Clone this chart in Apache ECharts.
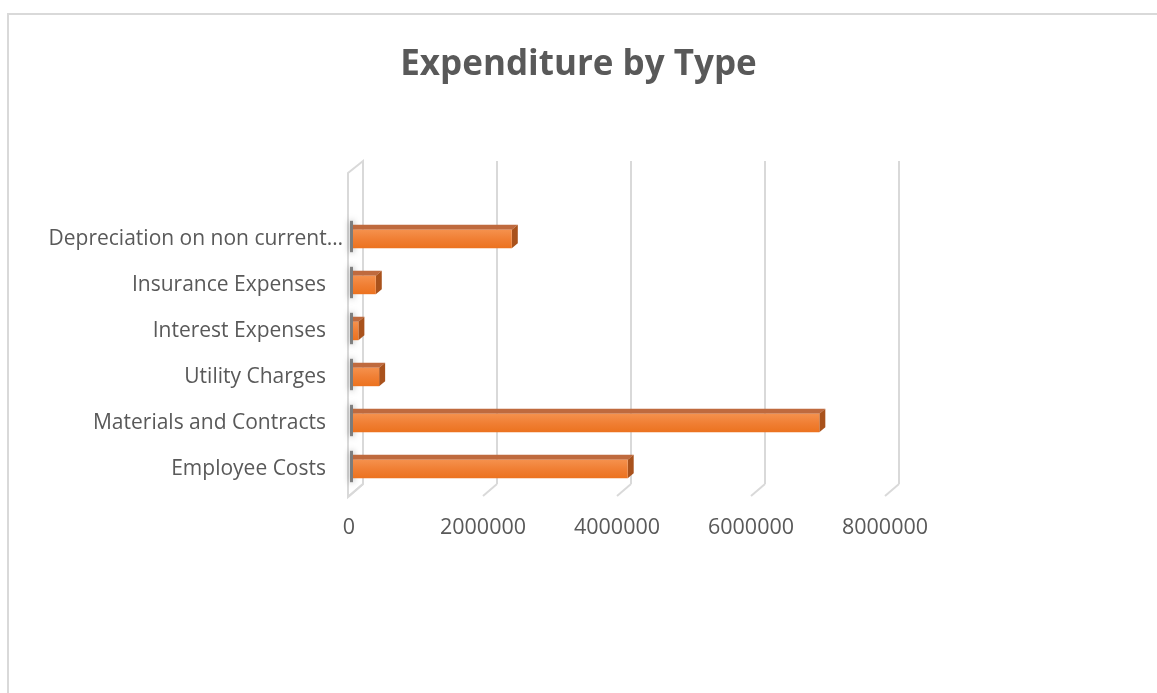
<!DOCTYPE html>
<html>
<head>
<meta charset="utf-8">
<script src="https://cdn.jsdelivr.net/npm/echarts@6/dist/echarts.min.js"></script>
<style>
html,body{margin:0;padding:0;background:#fff;}
#chart{width:1157px;height:693px;}
</style>
</head>
<body>
<div id="chart"></div>
<script>
// ---- data ----
const categories = [
  'Employee Costs',
  'Materials and Contracts',
  'Utility Charges',
  'Interest Expenses',
  'Insurance Expenses',
  'Depreciation on non current assets'
];
const values = [4100000, 6960000, 390000, 80000, 340000, 2370000];
const tickValues = [0, 2000000, 4000000, 6000000, 8000000];
const titleText = 'Expenditure by Type';

const FONT = 'Open Sans';
const TEXT = '#595959';
const GRID = '#d9d9d9';

const chart = echarts.init(document.getElementById('chart'), null, {renderer: 'canvas'});

function barItem(params, api) {
  const v = api.value(0);
  const idx = api.value(1);
  const s = api.coord([0, idx]);
  const e = api.coord([v, idx]);
  const h = api.size([0, 1])[1] * 0.40;
  const dx = 6, dy = 5;
  const x0 = s[0], x1 = e[0];
  const y0 = s[1] - h / 2;
  return {
    type: 'group',
    children: [
      {
        type: 'rect',
        shape: {x: x0 - 3, y: y0 - dy - 4, width: 3, height: h + dy + 8},
        style: {fill: 'rgba(60,60,60,0.6)', shadowBlur: 6, shadowColor: 'rgba(0,0,0,0.7)'}
      },
      {
        type: 'polygon',
        shape: {points: [[x0, y0], [x0, y0 - dy], [x1 + dx, y0 - dy], [x1, y0]]},
        style: {fill: '#bf6a3e'}
      },
      {
        type: 'polygon',
        shape: {points: [[x1, y0], [x1 + dx, y0 - dy], [x1 + dx, y0 + h - dy], [x1, y0 + h]]},
        style: {fill: '#a9521c'}
      },
      {
        type: 'rect',
        shape: {x: x0, y: y0, width: x1 - x0, height: h},
        style: {
          fill: new echarts.graphic.LinearGradient(0, 0, 0, 1, [
            {offset: 0, color: '#f5914d'},
            {offset: 0.5, color: '#f07f34'},
            {offset: 1, color: '#ec721f'}
          ])
        }
      }
    ]
  };
}

function floorItem(params, api) {
  const v = api.value(0);
  const p = api.coord([v, 0]);
  const top = api.coord([v, 1]);
  const children = [];
  if (v === 0) {
    children.push({
      type: 'polygon',
      shape: {points: [[p[0] - 15, top[1] + 12], [p[0], top[1]], [p[0], p[1]], [p[0] - 15, p[1] + 13]]},
      style: {fill: '#ffffff', stroke: GRID, lineWidth: 2}
    });
  }
  children.push({
    type: 'line',
    shape: {x1: p[0], y1: p[1], x2: p[0] - 14, y2: p[1] + 12},
    style: {stroke: GRID, lineWidth: 2}
  });
  return {type: 'group', children: children};
}

const option = {
  backgroundColor: '#ffffff',
  animation: false,
  title: {
    text: titleText,
    left: 'center',
    top: 43,
    textStyle: {fontFamily: FONT, fontSize: 35, fontWeight: 'bold', color: TEXT}
  },
  graphic: [{
    type: 'rect',
    shape: {x: 8, y: 14, width: 1160, height: 700},
    style: {fill: 'none', stroke: GRID, lineWidth: 2},
    silent: true
  }],
  grid: [
    {left: 353, width: 536, top: 216, height: 276},   // bar plane
    {left: 363, width: 536, top: 161, height: 323},   // back wall
    {left: 349, width: 536, top: 216, height: 280}    // front floor edge (labels)
  ],
  xAxis: [
    {gridIndex: 0, type: 'value', min: 0, max: 8000000, interval: 2000000,
     axisLine: {show: false}, axisTick: {show: false}, axisLabel: {show: false}, splitLine: {show: false}},
    {gridIndex: 1, type: 'value', min: 0, max: 8000000, interval: 2000000,
     axisLine: {show: false}, axisTick: {show: false}, axisLabel: {show: false},
     splitLine: {show: true, lineStyle: {color: GRID, width: 2}}},
    {gridIndex: 2, type: 'value', min: 0, max: 8000000, interval: 2000000,
     axisLine: {show: false}, axisTick: {show: false}, splitLine: {show: false},
     axisLabel: {show: true, margin: 21, color: TEXT, fontFamily: FONT, fontSize: 21.5,
       formatter: function (v) { return String(v); }}}
  ],
  yAxis: [
    {gridIndex: 0, type: 'category',
     data: categories.map(function (c) {
       return c.length > 28 ? {value: c, textStyle: {padding: [0, -17, 0, 0]}} : c;
     }),
     axisLine: {show: false}, axisTick: {show: false}, splitLine: {show: false},
     axisLabel: {
       margin: 27, color: TEXT, fontFamily: FONT, fontSize: 21,
       formatter: function (s) { return s.length > 28 ? s.slice(0, 27) + '…' : s; }
     }},
    {gridIndex: 1, type: 'value', min: 0, max: 1, show: false},
    {gridIndex: 2, type: 'value', min: 0, max: 1, show: false}
  ],
  series: [
    {
      type: 'custom',
      xAxisIndex: 1, yAxisIndex: 1,
      renderItem: floorItem,
      data: tickValues.map(v => [v]),
      z: 1, silent: true
    },
    {
      type: 'custom',
      xAxisIndex: 0, yAxisIndex: 0,
      renderItem: barItem,
      encode: {x: 0, y: 1},
      data: values.map((v, i) => [v, i]),
      z: 3
    }
  ]
};
chart.setOption(option);
</script>
</body>
</html>
